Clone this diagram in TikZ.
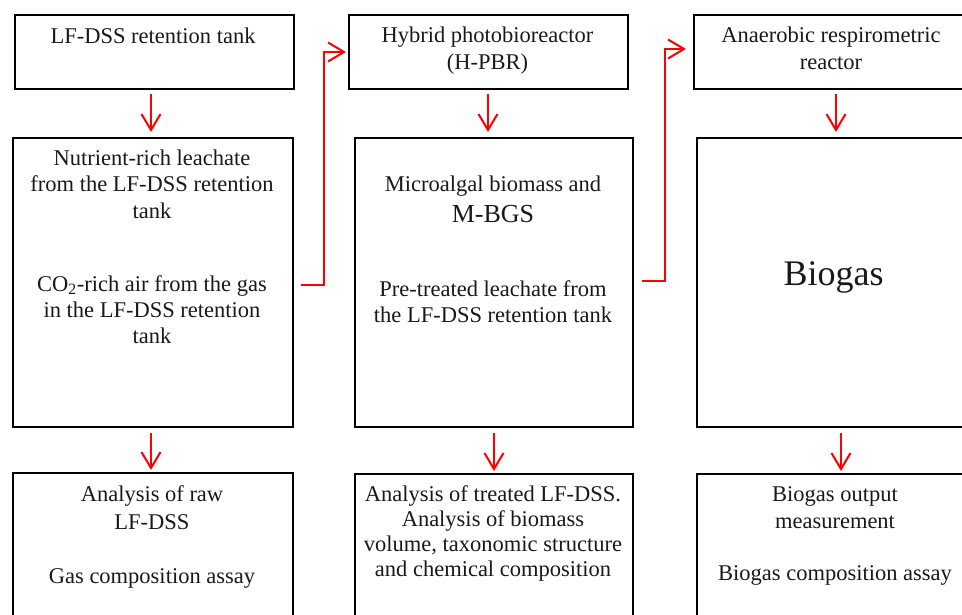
\documentclass[tikz,border=0pt]{standalone}
\usepackage{fontspec}
\setmainfont{Liberation Serif}
\usetikzlibrary{arrows.meta}
\begin{document}
\begin{tikzpicture}[x=1pt,y=-1pt,
  box/.style={draw=black,line width=2pt,inner sep=0pt,anchor=north west},
  txt/.style={align=center,anchor=base,inner sep=0pt,text=black!90,font=\fontsize{22.5}{26.5}\selectfont},
  redarrow/.style={draw=red,line width=2pt,-{Straight Barb[length=16pt,width=19pt]}}
]
\useasboundingbox (0,0) rectangle (962,615);
\clip (0,0) rectangle (962,615);
% boxes
\node[box,minimum width=279pt,minimum height=74pt] (b1) at (14,14) {};
\node[box,minimum width=279pt,minimum height=74pt] (b2) at (348,14) {};
\node[box,minimum width=276pt,minimum height=74pt] (b3) at (693,14) {};
\node[box,minimum width=280pt,minimum height=289pt] (b4) at (12,137) {};
\node[box,minimum width=278pt,minimum height=289pt] (b5) at (354,137) {};
\node[box,minimum width=276pt,minimum height=289pt] (b6) at (696,137) {};
\node[box,minimum width=280pt,minimum height=170pt] (b7) at (12,472) {};
\node[box,minimum width=278pt,minimum height=170pt] (b8) at (354,473) {};
\node[box,minimum width=276pt,minimum height=170pt] (b9) at (696,473) {};
% texts (anchor=base is the baseline of the last line)
\node[txt] (t1) at (153,43.3) {LF-DSS retention tank};
\node[txt,font=\fontsize{22.5}{27}\selectfont] (t2) at (487.5,70) {Hybrid photobioreactor\\(H-PBR)};
\node[txt,font=\fontsize{22.5}{27}\selectfont] (t3) at (831,70) {Anaerobic respirometric\\reactor};
\node[txt] (t4a) at (152,218.3) {Nutrient-rich leachate\\from the LF-DSS retention\\tank};
\node[txt,font=\fontsize{22.5}{26}\selectfont] (t4b) at (152,343.5) {CO\textsubscript{2}-rich air from the gas\\in the LF-DSS retention\\tank};
\node[txt] (t5a) at (493,191.7) {Microalgal biomass and};
\node[txt,font=\fontsize{26}{31}\selectfont] (t5m) at (493,222.7) {M-BGS};
\node[txt,font=\fontsize{22.5}{26}\selectfont] (t5b) at (493,322.7) {Pre-treated leachate from\\the LF-DSS retention tank};
\node[txt,font=\fontsize{36}{40}\selectfont] (t6) at (833.5,285) {Biogas};
\node[txt,font=\fontsize{22.5}{27.5}\selectfont] (t7a) at (152,529.2) {Analysis of raw\\LF-DSS};
\node[txt] (t7b) at (152,583) {Gas composition assay};
\node[txt,font=\fontsize{22.5}{25}\selectfont] (t8) at (493,576.7) {Analysis of treated LF-DSS.\\Analysis of biomass\\volume, taxonomic structure\\and chemical composition};
\node[txt] (t9a) at (835,528.3) {Biogas output\\measurement};
\node[txt] (t9b) at (835,580) {Biogas composition assay};
% vertical arrows
\draw[redarrow] ([xshift=-3.5pt,yshift=-4pt]b1.south) -- ([xshift=-2pt,yshift=5pt]b4.north);
\draw[redarrow] ([xshift=-2pt,yshift=-5pt]b4.south) -- ([xshift=-2pt,yshift=2pt]b7.north);
\draw[redarrow] ([xshift=-0.5pt,yshift=-4pt]b2.south) -- ([xshift=-6pt,yshift=5pt]b5.north);
\draw[redarrow] ([yshift=-5pt]b5.south) -- ([yshift=2pt]b8.north);
\draw[redarrow] ([xshift=4pt,yshift=-4pt]b3.south) -- ([xshift=1pt,yshift=5pt]b6.north);
\draw[redarrow] ([xshift=6pt,yshift=-5pt]b6.south) -- ([xshift=6pt,yshift=2pt]b9.north);
% elbow arrows
\draw[redarrow] ([xshift=7pt,yshift=-2.5pt]b4.east) -- ([xshift=30pt,yshift=-2.5pt]b4.east) |- ([xshift=-2pt]b2.west);
\draw[redarrow] ([xshift=8pt,yshift=1.5pt]b5.east) -- ([xshift=31pt,yshift=1.5pt]b5.east) |- ([xshift=-7pt,yshift=3pt]b3.west);
\end{tikzpicture}
\end{document}
